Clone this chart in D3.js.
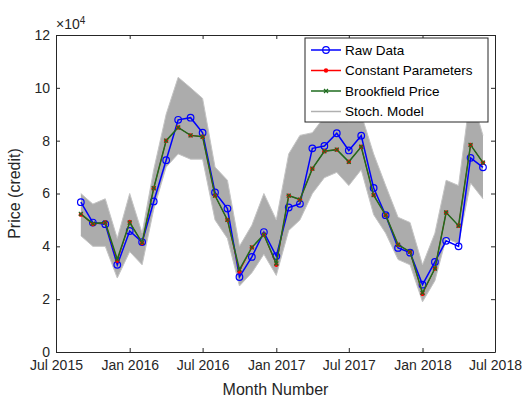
<!DOCTYPE html>
<html><head><meta charset="utf-8">
<script src="https://cdn.jsdelivr.net/npm/d3@7"></script>
<style>body{margin:0;background:#fff}text{font-family:"Liberation Sans",Arial,sans-serif}</style>
</head><body><div id="chart"></div>
<script>
const startMonth = new Date(2015, 8, 1); // Sep 2015
const rawData = [5.67,4.9,4.84,3.3,4.58,4.16,5.7,7.26,8.79,8.87,8.3,6.04,5.43,2.84,3.6,4.54,3.63,5.47,5.61,7.71,7.8,8.28,7.63,8.19,6.21,5.18,3.94,3.76,2.55,3.41,4.21,4.0,7.35,6.99];
const constParams = [5.2,4.84,4.9,3.45,4.92,4.12,6.2,8.0,8.5,8.2,8.15,5.92,5.0,3.05,3.96,4.44,3.3,5.92,5.77,6.94,7.6,7.66,7.2,7.77,5.94,5.18,4.06,3.79,2.2,3.16,5.28,4.78,7.84,7.17];
const brookfield = [5.23,4.86,4.9,3.51,4.9,4.14,6.2,8.0,8.5,8.2,8.15,5.92,5.0,3.12,3.96,4.44,3.35,5.92,5.77,6.94,7.6,7.66,7.2,7.77,5.94,5.18,4.06,3.79,2.24,3.16,5.28,4.78,7.84,7.17];
const stochHigh = [6.0,5.6,5.8,4.3,6.0,4.5,6.9,9.0,10.4,10.0,9.6,7.0,6.5,4.0,4.8,6.0,5.0,7.5,8.2,8.3,8.9,9.2,8.7,9.0,7.5,6.3,5.1,4.9,3.3,4.5,6.5,6.3,9.8,8.2];
const stochLow = [4.4,4.0,4.0,2.8,3.8,3.3,5.4,7.0,7.5,7.3,7.3,5.0,4.3,2.5,3.0,3.7,2.9,4.6,5.0,6.0,6.6,6.8,6.3,6.9,5.2,4.5,3.5,3.3,1.9,2.7,4.3,4.1,6.4,5.8];
const xTicks = [[2015,6],[2016,0],[2016,6],[2017,0],[2017,6],[2018,0],[2018,6]];
const yTicks = [0,2,4,6,8,10,12];

const W = 531, H = 401, L = 56, R = 495, T = 35, B = 352;
const dates = rawData.map((_, i) => d3.timeMonth.offset(startMonth, i));
const svg = d3.select("#chart").append("svg").attr("width", W).attr("height", H);
const x = d3.scaleTime().domain([new Date(2015,6,1), new Date(2018,6,1)]).range([L, R]);
const y = d3.scaleLinear().domain([0, 12]).range([B, T]);
const fmt = d3.timeFormat("%b %Y");

// stochastic band
svg.append("path").datum(dates.map((d,i)=>[d,stochLow[i],stochHigh[i]]))
  .attr("fill","#acacac")
  .attr("d", d3.area().x(d=>x(d[0])).y0(d=>y(d[1])).y1(d=>y(d[2])));
[stochHigh, stochLow].forEach(s => svg.append("path").datum(s).attr("fill","none")
  .attr("stroke","#c4c4c4").attr("stroke-width",1)
  .attr("d", d3.line().x((d,i)=>x(dates[i])).y(d=>y(d))));

const line = d3.line().x((d,i)=>x(dates[i])).y(d=>y(d));
svg.append("path").datum(rawData).attr("fill","none").attr("stroke","#0000ff").attr("stroke-width",1.5).attr("d",line);
svg.selectAll(".raw").data(rawData).enter().append("circle")
  .attr("cx",(d,i)=>x(dates[i])).attr("cy",d=>y(d)).attr("r",3.3)
  .attr("fill","none").attr("stroke","#0000ff").attr("stroke-width",1.2);
svg.append("path").datum(constParams).attr("fill","none").attr("stroke","#ff0000").attr("stroke-width",1).attr("d",line);
svg.append("path").datum(brookfield).attr("fill","none").attr("stroke","#1e6b1e").attr("stroke-width",1.5).attr("d",line);
svg.selectAll(".cp").data(constParams).enter().append("circle")
  .attr("cx",(d,i)=>x(dates[i])).attr("cy",d=>y(d)).attr("r",2.2).attr("fill","#ff0000");
svg.selectAll(".bf").data(brookfield).enter().append("path")
  .attr("transform",(d,i)=>`translate(${x(dates[i])},${y(d)})`)
  .attr("d","M-2,-2L2,2M-2,2L2,-2").attr("stroke","#1e6b1e").attr("stroke-width",1.2);

// axes box
svg.append("g").attr("transform",`translate(0,${B})`)
  .call(d3.axisBottom(x).tickValues(xTicks.map(t=>new Date(t[0],t[1],1))).tickFormat(fmt).tickSizeInner(-4).tickSizeOuter(0).tickPadding(8));
svg.append("g").attr("transform",`translate(${L},0)`)
  .call(d3.axisLeft(y).tickValues(yTicks).tickSizeInner(-4).tickSizeOuter(0).tickPadding(6));
svg.append("g").attr("transform",`translate(0,${T})`).call(d3.axisTop(x).tickValues(xTicks.map(t=>new Date(t[0],t[1],1))).tickFormat("").tickSizeInner(-4).tickSizeOuter(0));
svg.append("g").attr("transform",`translate(${R},0)`).call(d3.axisRight(y).tickValues(yTicks).tickFormat("").tickSizeInner(-4).tickSizeOuter(0));
svg.selectAll(".domain, .tick line").attr("stroke","#262626");
svg.selectAll(".tick text").attr("font-size",14).attr("fill","#262626").attr("font-family","Liberation Sans, Arial");
svg.append("text").attr("x",L).attr("y",T-6).attr("font-size",14).attr("fill","#262626").text("×10").append("tspan").attr("dy",-5).attr("font-size",10).text("4");
svg.append("text").attr("x",(L+R)/2).attr("y",395).attr("text-anchor","middle").attr("font-size",16).attr("fill","#262626").text("Month Number");
svg.append("text").attr("transform",`translate(20,${(T+B)/2}) rotate(-90)`).attr("text-anchor","middle").attr("font-size",16).attr("fill","#262626").text("Price (credit)");

// legend
const lg = svg.append("g").attr("transform","translate(305,38)");
lg.append("rect").attr("width",183).attr("height",84).attr("fill","#fff").attr("stroke","#262626");
const items = [
  {name:"Raw Data", c:"#0000ff", m:"o"},
  {name:"Constant Parameters", c:"#ff0000", m:"dot"},
  {name:"Brookfield Price", c:"#1e6b1e", m:"x"},
  {name:"Stoch. Model", c:"#b0b0b0", m:""}];
items.forEach((it,i)=>{
  const yy = 12 + i*20.5;
  lg.append("line").attr("x1",6).attr("x2",36).attr("y1",yy).attr("y2",yy).attr("stroke",it.c).attr("stroke-width",1.5);
  if(it.m==="o") lg.append("circle").attr("cx",21).attr("cy",yy).attr("r",3.3).attr("fill","none").attr("stroke",it.c).attr("stroke-width",1.2);
  if(it.m==="dot") lg.append("circle").attr("cx",21).attr("cy",yy).attr("r",2.2).attr("fill",it.c);
  if(it.m==="x") lg.append("path").attr("d",`M19,${yy-2}L23,${yy+2}M19,${yy+2}L23,${yy-2}`).attr("stroke",it.c).attr("stroke-width",1.2);
  lg.append("text").attr("x",40).attr("y",yy+4.5).attr("font-size",13.5).attr("fill","#000").text(it.name);
});
</script></body></html>
